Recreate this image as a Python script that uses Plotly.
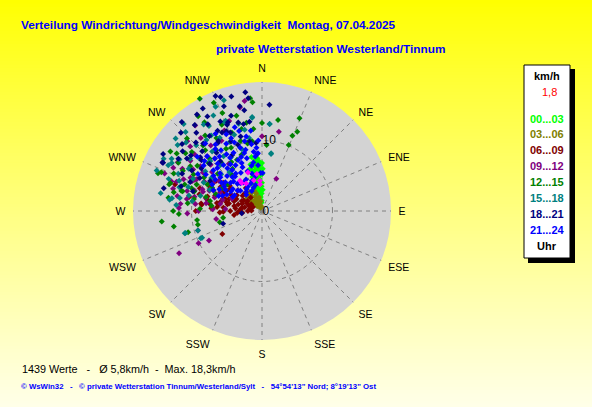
import plotly.graph_objects as go

# ---- data: wind direction (deg, compass) and speed (km/h) per time band ----
dir_00 = [355, 357, 352, 350, 356, 358, 353, 348, 345, 350, 359, 355, 350, 357, 346, 352, 0, 2, 1, 354,
          348, 344, 358, 353, 356, 349, 342, 347, 0, 351,
          354, 351, 349, 347, 345, 343, 356, 358, 352, 355, 349, 353, 357, 346, 341, 359, 350, 354, 0, 356,
          352, 348, 351, 357, 344]
spd_00 = [2.0, 3.0, 3.5, 4.5, 4.5, 5.5, 5.0, 5.5, 3.0, 2.5, 2.5, 6.0, 6.5, 7.0, 6.0, 7.3, 4.0, 3.0, 6.0, 1.5,
          4.0, 5.0, 1.5, 6.8, 3.8, 3.2, 2.5, 2.0, 5.2, 4.0,
          2.8, 5.8, 6.8, 4.6, 5.5, 3.6, 5.0, 6.5, 4.2, 7.5, 7.8, 2.2, 4.0, 6.8, 4.2, 3.5, 5.0, 6.5, 6.8, 6.0,
          6.0, 3.0, 2.0, 1.2, 6.2]

dir_03 = [330, 320, 340, 335, 325, 318, 345, 315, 328, 338, 322, 332, 310, 305, 342, 312, 350, 348,
          336, 326, 340, 320, 346, 334, 316, 352, 308, 300]
spd_03 = [1.0, 1.5, 1.8, 2.2, 2.5, 2.0, 1.2, 1.0, 1.8, 0.8, 2.8, 3.0, 2.0, 1.5, 2.6, 2.4, 0.6, 2.0,
          1.4, 3.2, 3.0, 0.9, 0.8, 0.5, 3.0, 1.4, 2.8, 2.4]

dir_06 = [270, 275, 280, 285, 290, 295, 300, 305, 310, 275, 270, 268, 280, 288, 295, 300, 296, 282, 292, 305,
          315, 320, 273, 278, 262, 285, 296, 303, 282, 288, 325, 287, 270, 240, 290, 277, 265, 298, 284, 308,
          272, 278, 286, 294, 302, 276, 283, 289, 296, 302, 308, 279, 287, 293, 281, 275, 269, 266, 271, 279,
          300, 306, 290, 297, 283, 294, 285, 276, 281, 273]
spd_06 = [2.0, 3.0, 4.0, 3.5, 5.0, 4.0, 3.0, 5.5, 4.5, 5.5, 4.5, 6.0, 6.5, 7.0, 6.0, 6.8, 6.5, 2.5, 2.0, 2.5,
          3.5, 2.5, 7.0, 7.5, 4.0, 8.0, 8.5, 7.8, 8.0, 5.5, 4.0, 12.9, 9.4, 6.5, 9.4, 8.7, 2.8, 5.0, 5.2, 3.5,
          1.5, 1.8, 1.6, 1.4, 1.8, 3.8, 4.8, 4.2, 3.2, 4.2, 5.8, 6.2, 5.8, 7.5, 5.0, 6.4, 5.5, 3.5, 3.2, 2.9,
          5.8, 6.8, 3.0, 2.4, 6.0, 8.0, 9.2, 8.6, 10.5, 7.2]

dir_09 = [351, 24, 322, 313, 296, 243, 241, 253, 295, 296, 348, 12, 0, 291, 272, 243, 260, 312,
          290, 295, 300, 285, 288, 292, 298, 303, 308, 282, 286, 294, 300, 310, 315, 320, 325, 330,
          280, 276, 272, 305, 296, 288,
          283, 287, 291, 297, 301, 305, 293, 289, 284, 279, 275, 270, 268, 278, 299, 306, 312, 318,
          322, 335, 340, 286, 292, 280, 273]
spd_09 = [15.8, 5.0, 15.4, 14.5, 15.7, 13.2, 8.6, 9.5, 11.2, 10.3, 15.0, 11.5, 10.6, 14.8, 11.8, 10.1, 6.6, 13.7,
          9.0, 10.5, 8.0, 11.0, 8.8, 12.0, 12.8, 10.0, 9.0, 9.8, 7.0, 6.5, 13.8, 12.5, 11.0, 13.5, 8.2, 11.5,
          12.2, 9.5, 7.0, 7.5, 14.0, 13.5,
          8.2, 10.0, 8.0, 9.2, 11.4, 12.4, 10.8, 12.8, 13.0, 10.8, 11.6, 9.0, 10.6, 8.0, 6.6, 10.8, 9.8, 10.0,
          11.8, 12.6, 13.6, 5.8, 4.6, 6.0, 5.2]

dir_12 = [331, 354, 355, 22, 24, 22, 10, 0, 4, 327, 291, 290, 264, 260, 254, 262, 260, 255, 338, 323,
          328, 303, 307, 300, 286, 284, 288, 334, 348, 325, 281, 272, 268, 258, 287, 284, 22, 350, 354, 339,
          348, 315, 320, 310, 300, 295, 305, 318, 330, 340, 298, 292, 310, 335, 345, 280, 276, 300, 320,
          312, 317, 323, 328, 334, 343, 302, 297, 293, 289, 286, 282, 278, 304, 314, 326, 336, 346, 352,
          307, 296, 290, 284, 270, 276]
spd_12 = [18.2, 16.1, 15.5, 14.2, 12.3, 11.5, 13.1, 12.5, 9.4, 15.0, 15.3, 15.7, 14.3, 12.7, 10.9, 9.3, 5.6, 6.2, 15.0, 13.4,
          12.2, 15.5, 13.6, 13.7, 13.7, 11.8, 10.5, 8.1, 9.9, 7.3, 7.5, 8.8, 11.8, 9.3, 13.6, 11.6, 10.1, 12.7, 11.7, 11.9,
          9.8, 10.5, 9.0, 8.2, 9.5, 7.8, 11.2, 12.5, 10.2, 8.5, 11.0, 10.0, 13.0, 13.5, 14.0, 9.8, 10.6, 6.5, 6.8,
          10.2, 11.8, 10.8, 8.2, 10.0, 10.4, 12.0, 12.6, 13.6, 11.6, 10.0, 12.8, 13.4, 14.6, 14.8, 16.2, 16.8, 12.0, 10.0,
          6.2, 8.6, 7.0, 8.2, 12.6, 7.2]

dir_15 = [341, 5, 9, 354, 337, 326, 298, 277, 254, 278, 246, 278, 254, 246, 253, 354, 5, 9,
          300, 295, 290, 305, 310, 315, 320, 325, 330, 335, 340, 312, 302, 296, 288, 284, 292, 318,
          345, 350, 328, 333, 310, 298,
          306, 314, 322, 326, 338, 342, 348, 300, 294, 289, 286, 282, 279, 308, 316, 330, 296, 303,
          312, 320, 291, 280, 274, 318, 336]
spd_15 = [16.6, 12.4, 8.2, 13.3, 13.7, 12.9, 14.5, 13.2, 11.3, 10.0, 9.3, 12.9, 11.4, 9.5, 9.5, 13.4, 12.4, 8.3,
          12.0, 10.8, 12.5, 9.8, 11.6, 13.2, 11.0, 9.5, 12.0, 10.8, 11.5, 14.5, 13.8, 14.8, 11.0, 9.0, 8.0, 8.8,
          12.8, 10.5, 14.2, 15.2, 16.0, 15.8,
          12.6, 10.2, 12.8, 14.8, 13.8, 9.2, 11.8, 14.8, 13.0, 14.0, 12.2, 10.6, 11.8, 15.2, 15.6, 8.8, 9.2, 8.6,
          7.8, 7.2, 16.0, 14.6, 12.2, 16.6, 16.2]

dir_18 = [338, 4, 296, 336, 338, 328, 296, 307, 319, 311, 353, 339, 331, 348, 355, 355, 283, 286, 264, 252,
          320, 325, 315, 310, 305, 300, 330, 335, 345, 340, 350, 312, 322, 332, 340, 300, 295, 326, 318, 345,
          322, 328, 333, 338, 342, 348, 352, 316, 308, 302, 314, 327, 336, 344, 350, 305, 298, 292, 310, 320,
          330, 340, 300, 287, 352]
spd_18 = [17.6, 15.1, 15.6, 12.4, 12.0, 11.7, 15.7, 14.1, 12.7, 11.6, 16.1, 13.5, 13.0, 12.6, 9.7, 8.1, 14.3, 10.2, 2.9, 5.8,
          14.5, 13.0, 12.0, 14.8, 13.0, 11.5, 15.5, 14.0, 13.0, 15.8, 14.5, 10.0, 10.5, 9.0, 10.0, 8.5, 12.5, 16.5, 17.0, 16.8,
          15.5, 14.5, 12.5, 13.2, 14.2, 15.2, 12.8, 13.5, 12.8, 14.0, 16.0, 11.5, 10.8, 11.0, 10.0, 10.5, 10.0, 11.0, 11.2, 9.2,
          16.8, 17.2, 16.2, 12.0, 17.0]

dir_21 = [340, 345, 350, 335, 330, 325, 320, 315, 310, 318, 328, 338, 345, 352, 355, 358, 1, 342, 333, 322,
          312, 305, 300, 308, 315, 325, 335, 348, 352, 330, 340, 320, 310, 300, 295, 326, 336, 344, 322, 312,
          306, 298, 332, 341, 349, 316, 327, 303, 293, 310, 320, 342, 355, 289, 300,
          318, 324, 331, 337, 343, 347, 353, 356, 321, 314, 309, 303, 297, 307, 313, 319, 329, 334, 339, 346,
          351, 357, 326, 317, 304, 311, 323, 337, 344, 329, 333, 338, 346, 325, 316, 302, 296, 291, 308, 322]
spd_21 = [6.0, 5.5, 7.0, 8.0, 7.5, 6.5, 8.5, 7.0, 9.0, 10.0, 9.5, 10.5, 9.0, 8.5, 6.5, 5.4, 5.4, 4.5, 5.0, 5.0,
          6.0, 7.0, 6.0, 10.5, 11.0, 11.5, 12.0, 10.8, 11.5, 4.0, 3.5, 3.5, 4.5, 4.5, 5.5, 8.0, 6.8, 7.8, 9.8, 8.0,
          8.5, 8.0, 10.8, 9.5, 5.0, 5.8, 4.8, 9.5, 7.5, 12.0, 12.5, 12.5, 9.0, 6.5, 10.5,
          5.2, 7.2, 6.2, 7.4, 8.6, 6.6, 7.8, 8.2, 7.8, 8.8, 7.6, 6.4, 6.8, 5.2, 4.2, 6.4, 8.8, 9.2, 8.2, 10.2,
          9.6, 10.0, 10.4, 9.2, 8.0, 10.8, 11.0, 11.2, 11.8, 12.8, 3.2, 4.2, 3.8, 3.8, 3.2, 5.2, 4.6, 6.0, 6.6, 6.2]

dir_now = [324, 356, 352, 324, 356, 330, 340, 345]
spd_now = [4.9, 4.3, 5.3, 5.3, 3.8, 4.5, 5.8, 4.5]

band_labels = ["00...03", "03...06", "06...09", "09...12", "12...15", "15...18", "18...21", "21...24"]
band_colors = ["#00FF00", "#808000", "#800000", "#800080", "#008000", "#008080", "#000080", "#0000FF"]
band_dirs = [dir_00, dir_03, dir_06, dir_09, dir_12, dir_15, dir_18, dir_21]
band_spds = [spd_00, spd_03, spd_06, spd_09, spd_12, spd_15, spd_18, spd_21]

compass_vals = [i * 22.5 for i in range(16)]
compass_text = ["N", "NNE", "NE", "ENE", "E", "ESE", "SE", "SSE",
                "S", "SSW", "SW", "WSW", "W", "WNW", "NW", "NNW"]

title1 = "Verteilung Windrichtung/Windgeschwindigkeit  Montag, 07.04.2025"
title2 = "private Wetterstation Westerland/Tinnum"
stats = "1439 Werte   -   Ø 5,8km/h  -  Max. 18,3km/h"
footer = "© WsWin32   -   © private Wetterstation Tinnum/Westerland/Sylt   -   54°54'13\" Nord; 8°19'13\" Ost"
current_speed = "1,8"

# ---- figure ----
W, H = 592, 407
cx, cy, R = 262, 211, 129

fig = go.Figure()
for lab, col, d, s in zip(band_labels, band_colors, band_dirs, band_spds):
    fig.add_trace(go.Scatterpolar(r=s, theta=d, mode="markers", name=lab,
                                  marker=dict(symbol="diamond", size=4.6, color=col, line=dict(width=0))))
fig.add_trace(go.Scatterpolar(r=spd_now, theta=dir_now, mode="markers", name="now",
                              marker=dict(symbol="diamond", size=4.6, color="#FF00FF", line=dict(width=0))))


def px(x):
    return x / W


def py(y):
    return 1 - y / H


shapes = []
N = 120
for i in range(N):
    t = i / (N - 1)
    b = int(round(232 * t ** 0.9))
    shapes.append(dict(type="rect", xref="paper", yref="paper", x0=0, x1=1,
                       y0=1 - (i + 1) / N - 0.002, y1=1 - i / N,
                       fillcolor=f"rgb(255,255,{b})", line=dict(width=0), layer="below"))
# legend box with shadow
shapes.append(dict(type="rect", xref="paper", yref="paper", x0=px(528), x1=px(575), y0=py(263), y1=py(69),
                   fillcolor="black", line=dict(width=0), layer="above"))
shapes.append(dict(type="rect", xref="paper", yref="paper", x0=px(524), x1=px(570), y0=py(258), y1=py(65),
                   fillcolor="white", line=dict(color="black", width=1), layer="above"))

ann = []


def text(x, y, s, size, color, bold=False, anchor="left", family="Arial"):
    ann.append(dict(x=px(x), y=py(y), xref="paper", yref="paper", text=(f"<b>{s}</b>" if bold else s),
                    showarrow=False, xanchor=anchor, yanchor="middle",
                    font=dict(family=family, size=size, color=color)))


text(19, 25, title1, 11.8, "#0000FF", bold=True)
text(214, 49, title2, 11.8, "#0000FF", bold=True)
text(20, 369, stats, 10.8, "black")
text(19, 386, footer, 7.8, "#0000FF", bold=True)

lx = 547
text(lx, 76, "km/h", 11, "black", bold=True, anchor="center")
text(lx + 2, 92, current_speed, 11, "#FF0000", anchor="center")
ys = [119, 134, 149.5, 165.5, 181.5, 197.5, 214, 230]
for lab, col, yy in zip(band_labels, band_colors, ys):
    text(lx, yy, lab, 11, col, bold=True, anchor="center")
text(lx, 246, "Uhr", 11, "black", bold=True, anchor="center")

fig.update_layout(
    width=W, height=H, margin=dict(l=0, r=0, t=0, b=0),
    paper_bgcolor="#FFFFF0", showlegend=False, hovermode=False,
    shapes=shapes, annotations=ann,
    polar=dict(
        domain=dict(x=[(cx - R) / W, (cx + R) / W], y=[1 - (cy + R) / H, 1 - (cy - R) / H]),
        bgcolor="#D3D3D3",
        angularaxis=dict(direction="clockwise", rotation=90, tickmode="array",
                         tickvals=compass_vals, ticktext=compass_text,
                         showline=False, showgrid=True, gridcolor="#808080", gridwidth=1,
                         griddash="4px,4px", ticks="outside", ticklen=5, tickcolor="rgba(0,0,0,0)",
                         tickfont=dict(family="Arial", size=10.5, color="black")),
        radialaxis=dict(range=[0, 18.3], angle=90, tickangle=90, tickmode="array",
                        tickvals=[0, 10], ticktext=["0", "10"], showline=False, ticks="",
                        showgrid=True, gridcolor="#808080", gridwidth=1, griddash="4px,4px",
                        tickfont=dict(family="Arial", size=12, color="black")),
    ),
)

fig.write_html("out.html", config={"displayModeBar": False},
               post_script="document.body.style.margin='0px';")
